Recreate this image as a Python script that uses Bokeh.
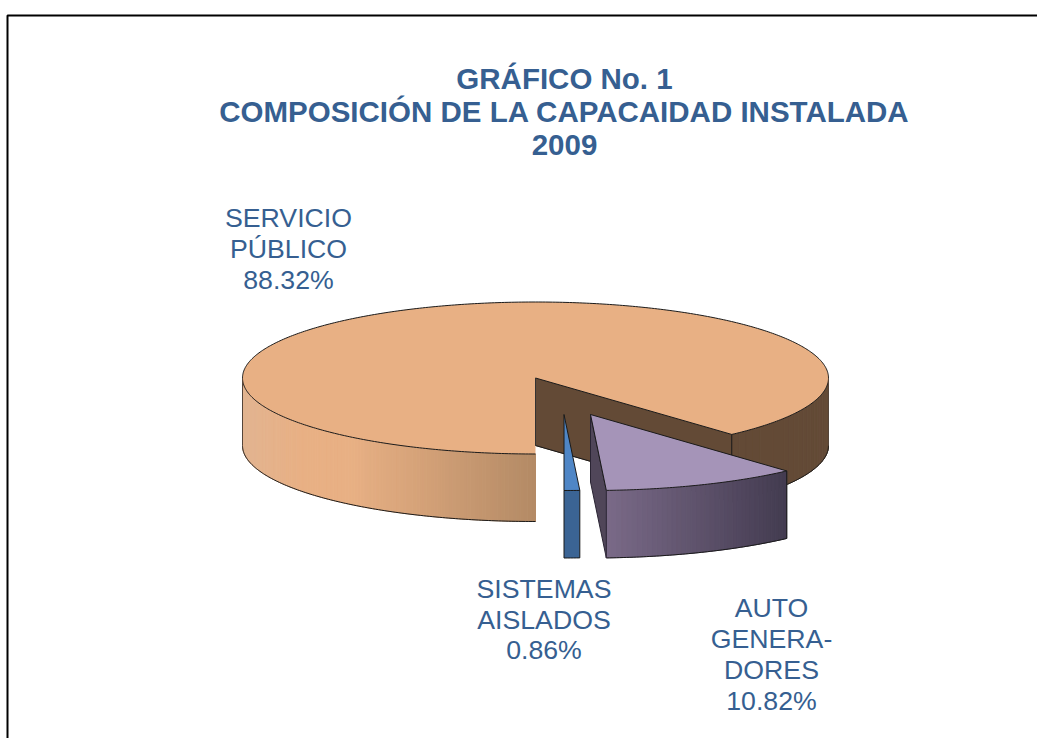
import numpy as np
from bokeh.embed import file_html
from bokeh.resources import INLINE
from bokeh.plotting import figure
from bokeh.models import Range1d
from bokeh.core.properties import value

# ---- data ----
categories = ["SISTEMAS AISLADOS", "AUTO GENERADORES", "SERVICIO PÚBLICO"]
shares = [0.86, 10.82, 88.32]
title_lines = ["GRÁFICO No. 1", "COMPOSICIÓN DE LA CAPACAIDAD INSTALADA", "2009"]
label_lines = [["SISTEMAS", "AISLADOS", "0.86%"],
               ["AUTO", "GENERA-", "DORES", "10.82%"],
               ["SERVICIO", "PÚBLICO", "88.32%"]]

# ---- layout / style ----
W, H = 1037, 738
CX, CY, RX, RY, DEPTH = 535.0, 377.5, 293.0, 76.0, 67.5
explode = [(28.5, 36.5), (55.0, 36.5), (0.0, 0.0)]
label_pos = [(543.5, 588.5, 30.5), (771, 607.5, 31), (288, 217.5, 31)]
TEXT = "#365F91"

p = figure(width=W, height=H, x_range=Range1d(0, W), y_range=Range1d(H, 0),
           output_backend="svg", toolbar_location=None, min_border=0,
           x_axis_location=None, y_axis_location=None, outline_line_color=None,
           background_fill_color="white", border_fill_color="white")
p.grid.visible = False


def hexmix(a, b, t):
    a = np.array([int(a[i:i + 2], 16) for i in (1, 3, 5)], float)
    b = np.array([int(b[i:i + 2], 16) for i in (1, 3, 5)], float)
    c = (a + (b - a) * np.clip(t, 0, 1)).round().astype(int)
    return "#%02x%02x%02x" % tuple(c)


def pt(theta, dx=0.0, dy=0.0):
    """theta in degrees, measured from 6 o'clock towards the right."""
    r = np.radians(theta)
    return CX + dx + RX * np.sin(r), CY + dy + RY * np.cos(r)


def arc(a, b, dx=0.0, dy=0.0, n=None):
    n = n or max(2, int(abs(b - a) * 1.5) + 2)
    return pt(np.linspace(a, b, n), dx, dy)


def wall_strips(a, b, dx, dy, colour_at, step=1.0):
    n = max(1, int(round(abs(b - a) / step)))
    edges = np.linspace(a, b, n + 1)
    xs, ys, cols = [], [], []
    for t0, t1 in zip(edges[:-1], edges[1:]):
        x0, y0 = pt(t0, dx, dy)
        x1, y1 = pt(t1, dx, dy)
        xs.append([x0, x1, x1, x0])
        ys.append([y0, y1, y1 + DEPTH, y0 + DEPTH])
        cols.append(colour_at((x0 + x1) / 2))
    p.patches(xs, ys, fill_color=cols, line_color=cols, line_width=1)


EDGE = "#1a1a1a"
cum = np.cumsum([0] + shares) * 3.6
sis = (cum[0], cum[1])
aut = (cum[1], cum[2])
ser = (cum[2], cum[3])

# --- SERVICIO PÚBLICO ---
dx, dy = explode[2]
BROWN = "#634A36"
ex, ey = pt(ser[0], dx, dy)
p.patch([CX, ex, ex, CX], [CY, ey, ey + DEPTH, CY + DEPTH], fill_color=BROWN, line_color=BROWN)
wall_strips(ser[0], 90, dx, dy, lambda x: BROWN, step=2)


def service_col(x):
    if x < 300:
        return hexmix("#E2B491", "#E8B084", (x - 242) / 58)
    if x < 350:
        return "#E8B084"
    return hexmix("#E8B084", "#B38A65", (x - 350) / 185)


wall_strips(360, 270, dx, dy, service_col, step=0.75)
ax, ay = arc(ser[0], ser[1], dx, dy)
p.patch(np.r_[CX, ax], np.r_[CY, ay], fill_color="#E8B084", line_color=None)
p.line(ax, ay, line_color=EDGE, line_width=1)
p.line([CX, ex], [CY, ey], line_color=EDGE, line_width=1)
p.line([CX, CX], [CY, CY + DEPTH], line_color="#333333", line_width=1)
p.line([ex, ex], [ey, ey + DEPTH], line_color=EDGE, line_width=1)
p.line([CX, ex], [CY + DEPTH, ey + DEPTH], line_color=EDGE, line_width=1)
bx, by = arc(270, 360, dx, dy)
p.line(bx, by + DEPTH, line_color=EDGE, line_width=1)
bx, by = arc(ser[0], 90, dx, dy)
p.line(bx, by + DEPTH, line_color=EDGE, line_width=1)
for th in (90, 270):
    vx, vy = pt(th, dx, dy)
    p.line([vx, vx], [vy, vy + DEPTH], line_color="#55453a", line_width=1)

# --- SISTEMAS AISLADOS ---
dx, dy = explode[0]
cx, cy = CX + dx, CY + dy
ax, ay = arc(sis[0], sis[1], dx, dy)
p.patch(np.r_[ax, ax[-1], ax[0]], np.r_[ay + DEPTH, ay[-1], ay[0]], fill_color="#3B6494", line_color=EDGE)
p.patch(np.r_[cx, ax], np.r_[cy, ay], fill_color="#4F86C6", line_color=EDGE, line_width=1)

# --- AUTO GENERADORES ---
dx, dy = explode[1]
cx, cy = CX + dx, CY + dy
ax, ay = arc(aut[0], aut[1], dx, dy)
p.patch([cx, ax[0], ax[0], cx], [cy, ay[0], ay[0] + DEPTH, cy + DEPTH],
        fill_color="#504659", line_color="#2a2433")
wall_strips(aut[0], aut[1], dx, dy,
            lambda x: hexmix("#7A6A88", "#433B50", (x - ax[0]) / (ax[-1] - ax[0])), step=1)
p.patch(np.r_[cx, ax], np.r_[cy, ay], fill_color="#A594B8", line_color=EDGE, line_width=1)
p.line(ax, ay + DEPTH, line_color=EDGE, line_width=1)
p.line([ax[0], ax[0]], [ay[0], ay[0] + DEPTH], line_color="#2a2433", line_width=1)
p.line([ax[-1], ax[-1]], [ay[-1], ay[-1] + DEPTH], line_color=EDGE, line_width=1)

# --- texts ---
tx, ty, tt = [], [], []
for lines, (lx, ly, sp) in zip(label_lines, label_pos):
    for i, s in enumerate(lines):
        tx.append(lx)
        ty.append(ly + i * sp)
        tt.append(s)
p.text(tx, ty, text=tt, text_font=value("Liberation Sans"), text_font_size="26.7px",
       text_color=TEXT, text_align="center", text_baseline="middle")
p.text([564] * 3, [77.5, 111, 144.5], text=title_lines, text_font=value("Liberation Sans"),
       text_font_size="29.5px", text_font_style="bold", text_color=TEXT,
       text_align="center", text_baseline="middle")

# --- frame ---
p.line([7, 7, W], [H, 15, 15], line_color="#000000", line_width=2)

open("out.html", "w").write(file_html(p, INLINE))
